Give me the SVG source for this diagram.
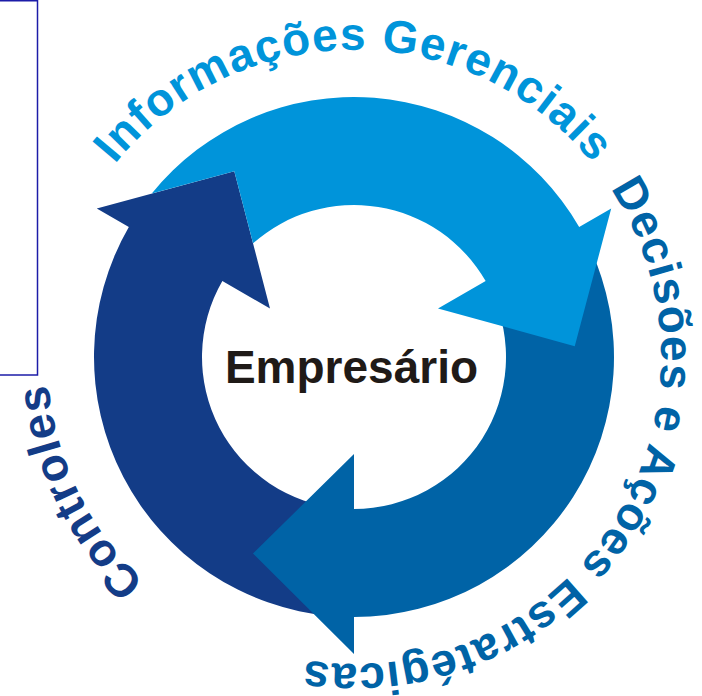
<svg xmlns="http://www.w3.org/2000/svg" width="702" height="696" viewBox="0 0 702 696">
  <style>
    .arc { font-family: "Liberation Sans", Arial, sans-serif; font-weight: bold; font-size: 46px; letter-spacing: 1.2px; }
    .light { fill: #0094DA; }
    .mid { fill: #0063A6; }
    .dark { fill: #133C87; }
    .center { font-family: "Liberation Sans", Arial, sans-serif; font-weight: bold; font-size: 46px; fill: #1F1A17; }
  </style>
  <defs>
    <path id="p-info" d="M 51.7 410.3 A 307 307 0 1 1 656.3 410.3" fill="none"/>
    <path id="p-dec" d="M 473.9 74.4 A 307 307 0 1 1 144.6 581.5" fill="none"/>
    <path id="p-ctrl" d="M 534.5 605.4 A 307 307 0 1 1 269.4 61.9" fill="none"/>
  </defs>
  <rect width="702" height="696" fill="#ffffff"/>
  <rect x="-5" y="0.75" width="42.5" height="374.25" fill="none" stroke="#1C1CA8" stroke-width="1.5"/>

  <g id="connectors">
    <g id="arrow-controles">
      <path class="dark" d="M 331.34 616.01 A 260 260 0 0 1 128.83 227 L 96.79 208.5 L 234.28 171.23 L 270.0 308.5 L 222.36 281 A 152 152 0 0 0 340.75 508.42 Z"/>
    </g>
    <g id="arrow-decisoes">
      <path class="mid" d="M 589.64 247.12 A 260 260 0 0 1 354 617 L 354 654 L 252.99 553.56 L 354 454 L 354 509 A 152 152 0 0 0 491.76 292.76 Z"/>
    </g>
    <g id="arrow-informacoes">
      <path class="light" d="M 151.76 193.6 A 260 260 0 0 1 579.17 227 L 611.21 208.5 L 574.74 346.2 L 438.0 308.5 L 485.64 281 A 152 152 0 0 0 253.05 243.35 L 234.28 171.23 Z"/>
    </g>
  </g>

  <g id="node-empresario">
    <text class="center" x="351.5" y="383" text-anchor="middle">Empresário</text>
  </g>
  <g id="node-informacoes">
    <text class="arc light"><textPath href="#p-info" startOffset="50%" text-anchor="middle">Informações Gerenciais</textPath></text>
  </g>
  <g id="node-decisoes">
    <text class="arc mid"><textPath href="#p-dec" startOffset="50%" text-anchor="middle">Decisões e Ações Estratégicas</textPath></text>
  </g>
  <g id="node-controles">
    <text class="arc dark"><textPath href="#p-ctrl" startOffset="50%" text-anchor="middle">Controles</textPath></text>
  </g>
</svg>
